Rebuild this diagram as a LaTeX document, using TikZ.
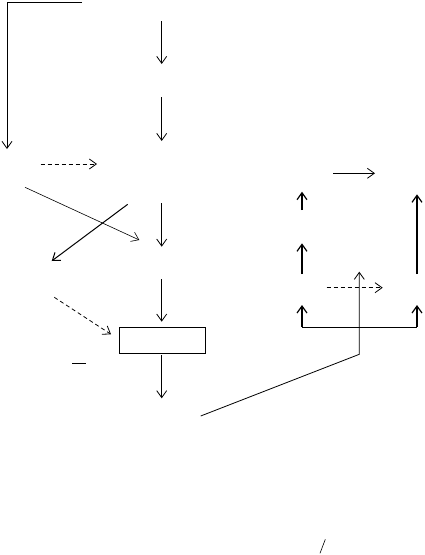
\documentclass[tikz,border=0pt]{standalone}
\usepackage{tikz}
\usetikzlibrary{arrows.meta}

\begin{document}
\begin{tikzpicture}[x=1pt,y=-1pt,line width=.8pt,
  arr/.style={-{Straight Barb[length=7pt,width=10pt]}},
  dsh/.style={arr,dashed,dash pattern=on 4pt off 3pt}]
\useasboundingbox (0,0) rectangle (425,555);
\draw[arr] (82,2)--(7,2)--(7,149);
\draw[arr] (161.7,21)--(161.7,64);
\draw[arr] (161.7,97)--(161.7,141);
\draw[dsh] (40.7,164)--(97,164);
\draw[arr,line width=.6pt] (25,187.3)--(139.3,240);
\draw[arr,line width=1pt] (127.7,204.3)--(51.7,261);
\draw[arr] (161.7,203.3)--(161.7,246.7);
\draw[arr] (161.7,279)--(161.7,321.7);
\draw[dsh] (54.3,297.3)--(111,334.3);
\node[draw,minimum width=86.7pt,minimum height=25.7pt,inner sep=0pt] (box) at (162.3,340.2) {};
\draw (72.3,363)--(85.7,363);
\draw[arr] (161.7,355)--(161.7,398.3);
\draw[arr] (333.3,173.3)--(375,173.3);
\draw[arr,line width=1.2pt] (302,210)--(302,191.7);
\draw[arr,line width=1.2pt] (302,274)--(302,243.3);
\draw[arr,line width=1.2pt] (417,274)--(417,194.3);
\draw (302,327)--(417,327);
\draw[arr,line width=1.2pt] (302,327)--(302,305);
\draw[arr,line width=1.2pt] (417,327)--(417,305);
\draw[dsh] (326.7,287.7)--(382.7,287.7);
\coordinate (j) at (359.3,354.3);
\draw[arr] (200.7,416)--(j)--(359.3,271.7);
\draw[line width=.6pt] (320,553.3)--(325.3,539.3);
\end{tikzpicture}
\end{document}
